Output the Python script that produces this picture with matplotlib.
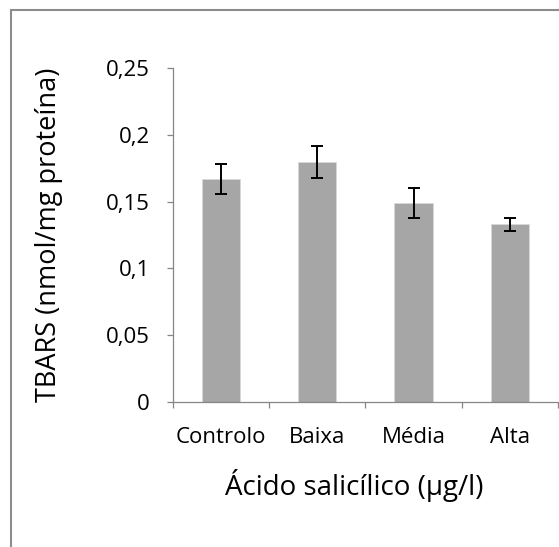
import matplotlib
matplotlib.use("Agg")
import matplotlib.pyplot as plt
from matplotlib.patches import Rectangle

categories = ["Controlo", "Baixa", "Média", "Alta"]
tbars = [0.167, 0.1795, 0.149, 0.133]
tbars_err = [0.011, 0.012, 0.0115, 0.005]
yticks = [0, 0.05, 0.1, 0.15, 0.2, 0.25]
ytick_labels = ["0", "0,05", "0,1", "0,15", "0,2", "0,25"]

W, H = 559, 547
plt.rcParams['font.family'] = ['Open Sans', 'DejaVu Sans']

fig = plt.figure(figsize=(W / 100, H / 100), dpi=100)

# axes box in pixel coords (from the reference)
x0, x1 = 172.7, 558.0
ytop, ybot = 68.3, 401.7
ax = fig.add_axes([x0 / W, (H - ybot) / H, (x1 - x0) / W, (ybot - ytop) / H])

grey = '#868686'
xs = range(len(categories))
ax.bar(xs, tbars, width=0.4, color='#a6a6a6', edgecolor='#d9d9d9', linewidth=0.6)
ax.errorbar(xs, tbars, yerr=tbars_err, fmt='none', ecolor='black',
            elinewidth=1.4, capsize=4.5, capthick=1.4)

ax.set_xlim(-0.5, len(categories) - 0.5)
ax.set_ylim(0, 0.25)
ax.set_yticks(yticks)
ax.set_yticklabels(ytick_labels)
ax.set_xticks([i - 0.5 for i in range(len(categories) + 1)], minor=False)
ax.set_xticklabels([])
ax.set_xticks(list(xs), minor=True)
ax.set_xticklabels(categories, minor=True)

for s in ['top', 'right']:
    ax.spines[s].set_visible(False)
for s in ['left', 'bottom']:
    ax.spines[s].set_color(grey)
    ax.spines[s].set_linewidth(0.9)

ax.tick_params(axis='y', which='major', direction='out', length=4.3, width=0.9,
               color=grey, labelsize=16, pad=12)
ax.tick_params(axis='x', which='major', direction='out', length=4.3, width=0.9, color=grey)
ax.tick_params(axis='x', which='minor', length=0, labelsize=16, pad=18)

ax.set_ylabel("TBARS (nmol/mg proteína)", fontsize=19.5)
ax.yaxis.set_label_coords(-0.322, 0.5)
ax.yaxis.label.set_va('center')
ax.set_xlabel("Ácido salicílico (µg/l)", fontsize=20)
ax.xaxis.set_label_coords(0.47, -0.25)
ax.xaxis.label.set_va('center')

# chart area border
fig.add_artist(Rectangle((11 / W, -0.1), 1.2, (H - 10) / H + 0.1,
                         transform=fig.transFigure, fill=False,
                         edgecolor='#8c8c8c', linewidth=1.5))

fig.savefig("out.png", dpi=100)
